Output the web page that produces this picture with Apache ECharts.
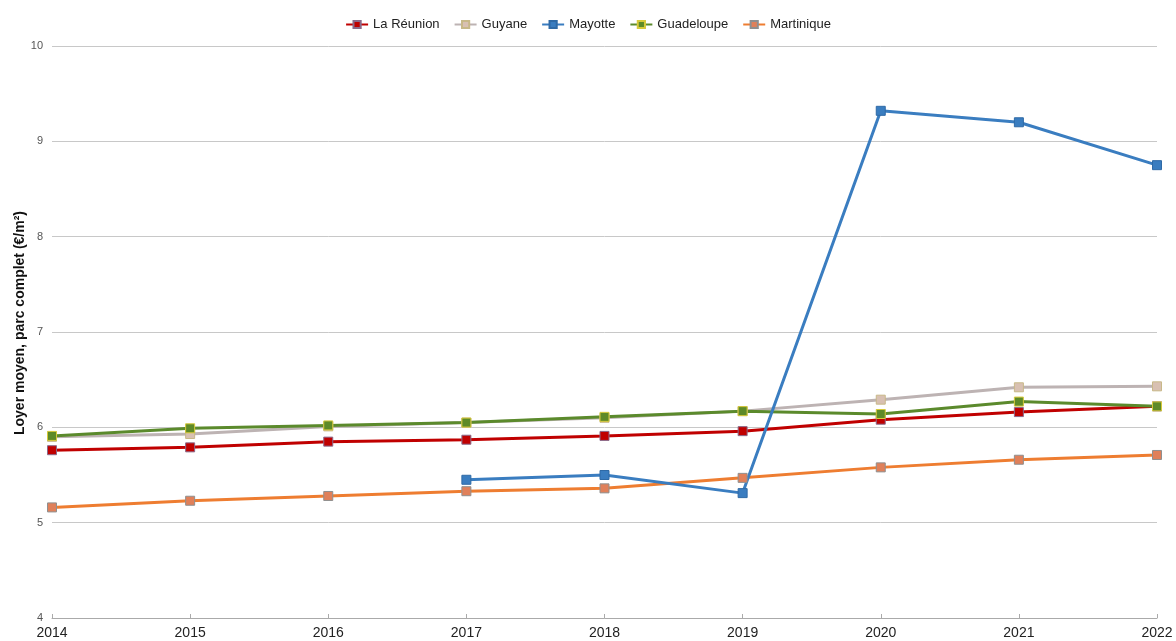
<!DOCTYPE html>
<html>
<head>
<meta charset="utf-8">
<script src="https://cdn.jsdelivr.net/npm/echarts@6/dist/echarts.min.js"></script>
<style>
  html, body { margin: 0; padding: 0; background: #fff; }
  #chart { width: 1176px; height: 641px; }
</style>
</head>
<body>
<div id="chart"></div>
<script>
// Loyer moyen du parc social par DROM, 2014-2022 (€/m²)
const years = ['2014', '2015', '2016', '2017', '2018', '2019', '2020', '2021', '2022'];
const reunion = [5.76, 5.79, 5.85, 5.87, 5.91, 5.96, 6.08, 6.16, 6.22];
const guyane = [5.90, 5.93, 6.01, 6.05, 6.10, 6.17, 6.29, 6.42, 6.43];
const mayotte = [null, null, null, 5.45, 5.50, 5.31, 9.32, 9.20, 8.75];
const guadeloupe = [5.91, 5.99, 6.02, 6.05, 6.11, 6.17, 6.14, 6.27, 6.22];
const martinique = [5.16, 5.23, 5.28, 5.33, 5.36, 5.47, 5.58, 5.66, 5.71];

function lineSeries(name, data, lineColor, fill, border) {
  return {
    name: name,
    type: 'line',
    data: data,
    symbol: 'rect',
    symbolSize: 9,
    connectNulls: false,
    lineStyle: { color: lineColor, width: 3 },
    itemStyle: { color: fill, borderColor: border, borderWidth: 1 },
    emphasis: { disabled: true }
  };
}

const chart = echarts.init(document.getElementById('chart'), null, { renderer: 'canvas' });
chart.setOption({
  animation: false,
  backgroundColor: '#ffffff',
  legend: {
    top: 13,
    left: 'center',
    itemWidth: 22,
    itemHeight: 9,
    itemGap: 14,
    textStyle: { fontFamily: 'Liberation Sans, Arial, sans-serif', fontSize: 13, color: '#222' },
    data: ['La Réunion', 'Guyane', 'Mayotte', 'Guadeloupe', 'Martinique']
  },
  grid: { left: 52, right: 19, top: 46, bottom: 23, containLabel: false, outerBoundsMode: 'none' },
  xAxis: {
    type: 'category',
    data: years,
    boundaryGap: false,
    axisLine: { lineStyle: { color: '#aaaaaa', width: 1 } },
    axisTick: { show: true, inside: true, length: 4, lineStyle: { color: '#aaaaaa' } },
    axisLabel: {
      color: '#222',
      fontFamily: 'Liberation Sans, Arial, sans-serif',
      fontSize: 14,
      margin: 8,
      showMinLabel: true,
      showMaxLabel: true
    }
  },
  yAxis: {
    type: 'value',
    min: 4,
    max: 10,
    interval: 1,
    name: 'Loyer moyen, parc complet (€/m²)',
    nameLocation: 'middle',
    nameGap: 25,
    nameMoveOverlap: false,
    nameTextStyle: {
      fontFamily: 'Liberation Sans, Arial, sans-serif',
      fontSize: 14,
      fontWeight: 'bold',
      color: '#111',
      padding: [0, 0, 0, 18]
    },
    axisLine: { show: false },
    axisTick: { show: false },
    axisLabel: {
      color: '#555',
      fontFamily: 'Liberation Sans, Arial, sans-serif',
      fontSize: 11,
      margin: 9
    },
    splitLine: { lineStyle: { color: '#c8c8c8', width: 1 } }
  },
  series: [
    lineSeries('La Réunion', reunion, '#c00000', '#c00000', '#8a6a8a'),
    lineSeries('Guyane', guyane, '#bdb3b3', '#d8c0b2', '#c8b888'),
    lineSeries('Guadeloupe', guadeloupe, '#5b8a2c', '#5e8a28', '#d6c93a'),
    lineSeries('Martinique', martinique, '#ee7d31', '#e0805a', '#8f8f8f'),
    lineSeries('Mayotte', mayotte, '#3a7dc0', '#3a7dc0', '#2f6aa6')
  ]
});
</script>
</body>
</html>
